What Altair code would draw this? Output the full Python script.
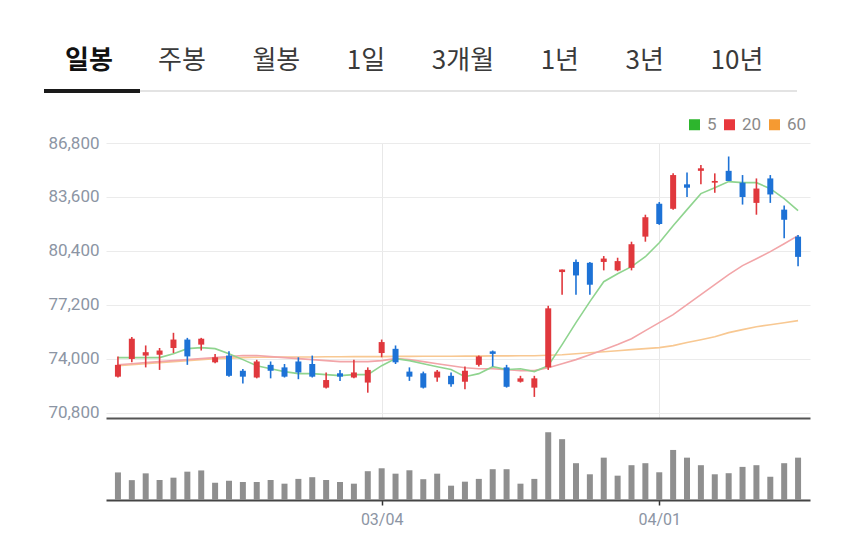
import altair as alt
import pandas as pd

# ---------------- data ----------------
dates = ["02/01", "02/02", "02/05", "02/06", "02/07", "02/08", "02/13", "02/14", "02/15", "02/16",
         "02/19", "02/20", "02/21", "02/22", "02/23", "02/26", "02/27", "02/28", "02/29",
         "03/04", "03/05", "03/06", "03/07", "03/08", "03/11", "03/12", "03/13", "03/14", "03/15",
         "03/18", "03/19", "03/20", "03/21", "03/22", "03/25", "03/26", "03/27", "03/28", "03/29",
         "04/01", "04/02", "04/03", "04/04", "04/05", "04/08", "04/09", "04/11", "04/12", "04/15", "04/16"]

opens = [72950, 74000, 74200, 74250, 74650, 75150, 74850, 73800, 74200, 73300,
         72900, 73650, 73500, 73850, 73700, 72300, 73150, 72900, 72600, 74350,
         74600, 73250, 73150, 72900, 73000, 72650, 73650, 74450, 73500, 72650,
         72300, 73500, 79150, 79750, 79700, 79750, 79250, 79400, 81250, 83200,
         82900, 84350, 85150, 84450, 85150, 84450, 83250, 84700, 82850, 81250]
highs = [74150, 75300, 74800, 74650, 75550, 75250, 75250, 74300, 74450, 73400,
         73950, 73850, 73700, 74100, 74200, 73200, 73350, 73950, 73500, 75150,
         74800, 73500, 73250, 73350, 73200, 73550, 74200, 74500, 73650, 73000,
         73000, 77150, 79300, 79900, 79750, 80100, 80000, 80950, 82550, 83300,
         85000, 85050, 85500, 85000, 86000, 84900, 84700, 84900, 83100, 81350]
lows = [72900, 73800, 73500, 73350, 74350, 73650, 74500, 73750, 72950, 72550,
        72850, 72850, 72900, 72800, 72900, 72250, 72700, 72850, 72000, 74100,
        73700, 72700, 72250, 72650, 72350, 72200, 73550, 73550, 72300, 72600,
        71750, 73350, 77800, 77800, 77800, 79250, 79200, 79250, 80950, 81950,
        82850, 83600, 84350, 83850, 84550, 83150, 82550, 83250, 81150, 79500]
closes = [73650, 75200, 74400, 74500, 75150, 74150, 75200, 74100, 73000, 72950,
          73850, 73300, 72950, 73200, 72950, 72750, 72950, 73200, 73350, 75000,
          73800, 72950, 72300, 73250, 72500, 73300, 74150, 74300, 72350, 72850,
          72850, 77000, 79300, 78950, 78400, 79950, 79800, 80800, 82400, 82000,
          84900, 84150, 85300, 84550, 84550, 83600, 84100, 83750, 82250, 80050]
volumes = [17.9, 12.9, 17.3, 13.0, 14.5, 18.4, 19.2, 11.2, 12.5, 11.7,
           11.7, 13.0, 10.6, 13.7, 14.8, 13.0, 11.7, 10.6, 18.7, 20.6,
           17.1, 19.3, 13.5, 17.1, 9.3, 11.9, 13.7, 20.0, 20.0, 10.6,
           13.7, 44.0, 39.5, 23.9, 16.7, 27.5, 15.8, 22.6, 23.9, 18.0,
           32.5, 27.5, 22.6, 16.7, 17.4, 21.5, 22.6, 15.1, 23.9, 27.5]
ma5 = [74080, 74080, 74080, 74080, 74310, 74610, 74670, 74610, 74310, 73960,
       73600, 73420, 73250, 73130, 73130, 73070, 73010, 73070, 73070, 73600,
       74020, 73900, 73720, 73540, 73370, 72950, 73130, 73540, 73370, 73420,
       73250, 73600, 74850, 76150, 77400, 78580, 79050, 79470, 80060, 80890,
       81900, 82850, 83800, 84150, 84510, 84450, 84450, 84090, 83500, 82790]
ma20 = [73660, 73720, 73780, 73840, 73900, 73960, 74020, 74080, 74140, 74200,
        74200, 74140, 74080, 74020, 73960, 73900, 73840, 73840, 73840, 73900,
        74020, 73960, 73840, 73720, 73600, 73480, 73420, 73420, 73370, 73310,
        73310, 73480, 73720, 73960, 74250, 74550, 74850, 75200, 75680, 76150,
        76630, 77220, 77810, 78400, 79000, 79530, 79940, 80360, 80830, 81310]
ma60 = [73600, 73660, 73720, 73780, 73840, 73900, 73960, 74020, 74050, 74080,
        74100, 74110, 74110, 74120, 74120, 74130, 74130, 74140, 74140, 74140,
        74150, 74150, 74160, 74160, 74160, 74170, 74170, 74180, 74180, 74190,
        74190, 74220, 74250, 74310, 74370, 74430, 74490, 74550, 74610, 74670,
        74790, 74970, 75140, 75320, 75560, 75740, 75910, 76030, 76150, 76270]

price_ticks = [70800, 74000, 77200, 80400, 83600, 86800]
date_ticks = ["03/04", "04/01"]
tabs = ["일봉", "주봉", "월봉", "1일", "3개월", "1년", "3년", "10년"]
ma_names = ["5", "20", "60"]

# ---------------- styles ----------------
RED = "#e0383d"
BLUE = "#1d72d6"
MA_LINE = {"5": "#8fd48f", "20": "#f2a5a8", "60": "#f8c892"}
MA_LEG = ["#2db52d", "#e8383d", "#f59a32"]
LABEL = "#8c95a4"
W, H_PRICE, H_VOL = 704, 275, 79

df = pd.DataFrame({
    "date": dates, "open": opens, "high": highs, "low": lows, "close": closes,
    "vol": volumes, "ma5": ma5, "ma20": ma20, "ma60": ma60,
})
df["i"] = list(range(len(dates)))
df["dir"] = ["up" if c >= o else "down" for o, c in zip(opens, closes)]

tick_idx = [dates.index(d) for d in date_ticks]
xscale = alt.Scale(domain=[-0.5, len(dates) - 0.5], nice=False, zero=False)
price_x_axis = alt.Axis(values=tick_idx, labels=False, ticks=False, grid=True,
                        gridColor="#e8e8e8", gridWidth=1, domain=True,
                        domainColor="#555555", domainWidth=2, title=None)
X = alt.X("i:Q", scale=xscale, axis=price_x_axis)
yscale = alt.Scale(domain=[70500, 86800], nice=False, zero=False)
price_y_axis = alt.Axis(values=price_ticks, labelExpr="format(datum.value, ',')",
                        grid=True, gridColor="#ebebeb",
                        ticks=False, domain=False, labelColor=LABEL, labelFont="Roboto",
                        labelFontSize=17, labelPadding=7, title=None)
dir_color = alt.Color("dir:N", scale=alt.Scale(domain=["up", "down"], range=[RED, BLUE]),
                      legend=None)

base = alt.Chart(df)
wicks = base.mark_rule(strokeWidth=1.6).encode(
    x=X, y=alt.Y("low:Q", scale=yscale, axis=price_y_axis), y2="high:Q", color=dir_color)
bodies = base.mark_bar(width=6).encode(
    x=X, y=alt.Y("open:Q", scale=yscale, axis=price_y_axis), y2="close:Q", color=dir_color)


def ma_line(col, name):
    return base.mark_line(strokeWidth=1.6, color=MA_LINE[name]).encode(
        x=X, y=alt.Y(f"{col}:Q", scale=yscale, axis=price_y_axis))


legend_layer = alt.Chart(pd.DataFrame({"ma": ma_names})).mark_square(opacity=0, size=0).encode(
    fill=alt.Fill("ma:N", scale=alt.Scale(domain=ma_names, range=MA_LEG),
                  legend=alt.Legend(orient="none", legendX=580, legendY=-27,
                                    direction="horizontal", title=None, symbolType="square",
                                    symbolSize=121, symbolOpacity=1, symbolStrokeWidth=0,
                                    labelFont="Roboto", labelFontSize=17, labelColor="#8a8a8a",
                                    labelOffset=4, columnPadding=4, padding=0)))

one = pd.DataFrame({"k": [0]})
underline = alt.Chart(one).mark_rule(color="#e3e3e3", strokeWidth=2).encode(
    x=alt.value(-62), x2=alt.value(691), y=alt.value(-52))
selbar = alt.Chart(one).mark_rule(color="#1a1a1a", strokeWidth=4).encode(
    x=alt.value(-62), x2=alt.value(34), y=alt.value(-52))
tab_sel = alt.Chart(pd.DataFrame({"t": [tabs[0]]})).mark_text(
    font="Noto Sans CJK KR", fontSize=26, fontWeight="bold", color="#111111",
    align="left", baseline="middle").encode(text="t:N", x=alt.value(-41), y=alt.value(-82))
tab_rest = alt.Chart(pd.DataFrame({"t": [("\u00a0" * 8).join(tabs[1:])]})).mark_text(
    font="Noto Sans CJK KR", fontSize=26, color="#3a3a3a",
    align="left", baseline="middle").encode(text="t:N", x=alt.value(52), y=alt.value(-82))

price = alt.layer(
    underline, selbar, tab_sel, tab_rest,
    ma_line("ma60", "60"), ma_line("ma20", "20"), ma_line("ma5", "5"),
    wicks, bodies, legend_layer,
).properties(width=W, height=H_PRICE)

label_expr = "[" + ",".join(f"'{d}'" for d in dates) + "][datum.value]"
vol = base.mark_bar(width=6, color="#8f8f8f").encode(
    x=alt.X("i:Q", scale=xscale,
            axis=alt.Axis(values=tick_idx, labelExpr=label_expr, ticks=True, tickSize=5,
                          tickColor="#333333", tickWidth=1.5, domainColor="#444444",
                          domainWidth=2, labelColor=LABEL, labelFont="Roboto",
                          labelFontSize=16, labelPadding=6, grid=False, title=None)),
    y=alt.Y("vol:Q", scale=alt.Scale(domain=[0, 51.3], nice=False), axis=None),
).properties(width=W, height=H_VOL)

chart = alt.vconcat(price, vol, spacing=0).properties(
    padding={"left": 42, "top": 48, "right": 5, "bottom": 0},
    background="white",
).configure_view(strokeWidth=0)

chart.save("out.html", embed_options={"renderer": "svg", "actions": False})
